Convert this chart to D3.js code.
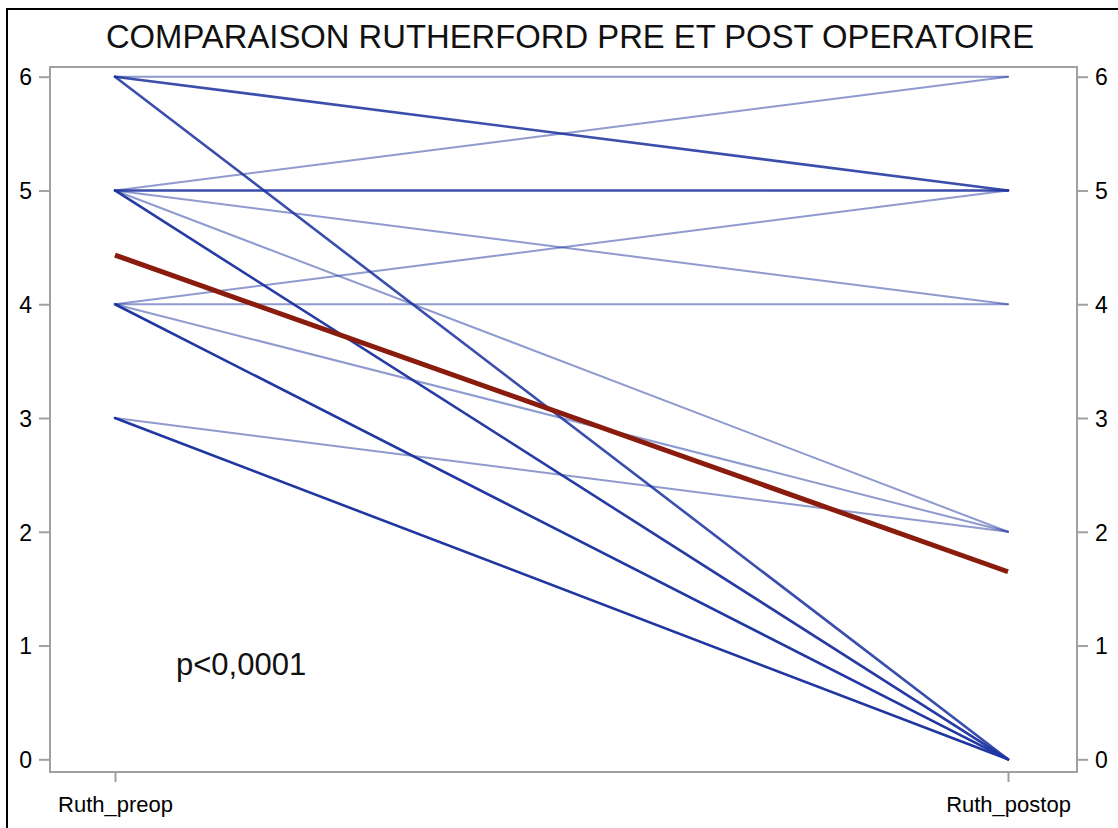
<!DOCTYPE html>
<html>
<head>
<meta charset="utf-8">
<script src="https://cdn.jsdelivr.net/npm/d3@7"></script>
<style>
  html, body { margin: 0; padding: 0; background: #fff; }
  svg { display: block; font-family: "Liberation Sans", Arial, sans-serif; }
</style>
</head>
<body>
<svg id="chart" width="1118" height="828"></svg>
<script>
// ---- data ----
const title = "COMPARAISON RUTHERFORD PRE ET POST OPERATOIRE";
const categories = ["Ruth_preop", "Ruth_postop"];
const yTicks = [0, 1, 2, 3, 4, 5, 6];
const pValueText = "p<0,0001";
// per-patient Rutherford stage before and after surgery
const preop  = [6, 6, 6, 6, 6, 6, 6,
                5, 5, 5, 5, 5, 5, 5, 5, 5, 5, 5,
                4, 4, 4, 4, 4, 4, 4, 4, 4, 4,
                3, 3, 3, 3, 3, 3, 3, 3, 3];
const postop = [6, 5, 5, 5, 0, 0, 0,
                6, 5, 5, 5, 4, 2, 0, 0, 0, 0, 0,
                5, 4, 2, 0, 0, 0, 0, 0, 0, 0,
                2, 0, 0, 0, 0, 0, 0, 0, 0];

// ---- layout ----
const plot = { left: 50, right: 1077, top: 67, bottom: 772 };
const svg = d3.select("#chart");

// outer frame
svg.append("rect")
  .attr("x", 7).attr("y", 9).attr("width", 1130).attr("height", 840)
  .attr("fill", "none").attr("stroke", "#000").attr("stroke-width", 2);

const x = d3.scalePoint().domain(categories).range([115, 1008]);
const y = d3.scaleLinear().domain([0, 6]).range([759.3, 76.7]);

// title
svg.append("text")
  .attr("x", 570).attr("y", 48)
  .attr("text-anchor", "middle")
  .attr("font-size", 32.8)
  .attr("fill", "#111")
  .text(title);

// plot frame
svg.append("rect")
  .attr("x", plot.left).attr("y", plot.top)
  .attr("width", plot.right - plot.left).attr("height", plot.bottom - plot.top)
  .attr("fill", "none").attr("stroke", "#a0a0a0").attr("stroke-width", 2);

// axes
function styleAxis(g) {
  g.select(".domain").remove();
  g.selectAll(".tick line").attr("stroke", "#a0a0a0").attr("stroke-width", 2);
  g.selectAll(".tick text").attr("fill", "#000").attr("font-family", "Liberation Sans, Arial, sans-serif");
}
svg.append("g").attr("transform", `translate(${plot.left},0)`)
  .call(d3.axisLeft(y).tickValues(yTicks).tickFormat(d3.format("d")).tickSize(11).tickPadding(7))
  .call(styleAxis)
  .selectAll(".tick text").attr("font-size", 23).attr("dy", "0.36em");
svg.append("g").attr("transform", `translate(${plot.right},0)`)
  .call(d3.axisRight(y).tickValues(yTicks).tickFormat(d3.format("d")).tickSize(11).tickPadding(7))
  .call(styleAxis)
  .selectAll(".tick text").attr("font-size", 23).attr("dy", "0.36em");
svg.append("g").attr("transform", `translate(0,${plot.bottom})`)
  .call(d3.axisBottom(x).tickSize(10).tickPadding(14))
  .call(styleAxis)
  .selectAll(".tick text").attr("font-size", 22).attr("dy", "0.71em");

// patient lines: one path per distinct pair, opacity builds up with the number of patients
const pairs = d3.rollups(preop.map((v, i) => [v, postop[i]]), v => v.length, d => d[0] + "-" + d[1])
  .map(([k, n]) => ({ vals: k.split("-").map(Number), n }));
const alpha = 0.5;
const line = d3.line().x((d, i) => x(categories[i])).y(d => y(d));
svg.append("g").selectAll("path").data(pairs).join("path")
  .attr("d", d => line(d.vals))
  .attr("fill", "none")
  .attr("stroke", "#1f35a0")
  .attr("stroke-opacity", d => 1 - Math.pow(1 - alpha, d.n))
  .attr("stroke-width", d => d.n > 1 ? 2.6 : 2)
  .attr("stroke-linecap", "round");

// mean line
const means = [d3.mean(preop), d3.mean(postop)];
svg.append("path")
  .datum(means)
  .attr("d", line)
  .attr("fill", "none")
  .attr("stroke", "#8a1c0e")
  .attr("stroke-width", 5);

// p-value annotation
svg.append("text")
  .attr("x", 176).attr("y", 675)
  .attr("font-size", 31)
  .attr("fill", "#111")
  .text(pValueText);
</script>
</body>
</html>
